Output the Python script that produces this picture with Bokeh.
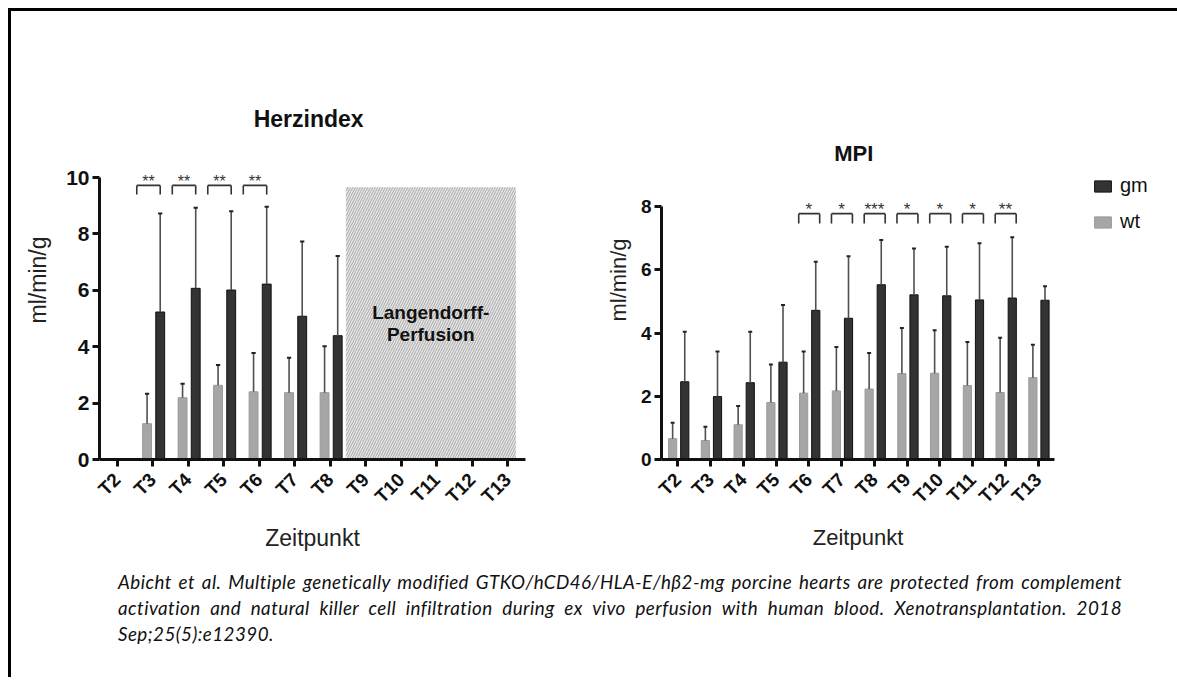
import math
from bokeh.plotting import figure
from bokeh.models import (ColumnDataSource, FactorRange, Range1d, FixedTicker,
                          Legend, LegendItem, Div)
from bokeh.transform import dodge
from bokeh.layouts import row, column
from bokeh.embed import file_html
from bokeh.resources import INLINE
from bokeh.core.properties import value

# ---------------- data ----------------
timepoints = ["T2", "T3", "T4", "T5", "T6", "T7", "T8", "T9", "T10", "T11", "T12", "T13"]

# Herzindex (ml/min/g), mean and upper SD
hi_times = ["T3", "T4", "T5", "T6", "T7", "T8"]
hi_wt = [1.27, 2.19, 2.63, 2.40, 2.37, 2.37]
hi_wt_sd = [1.06, 0.50, 0.72, 1.38, 1.24, 1.65]
hi_gm = [5.23, 6.07, 6.01, 6.22, 5.08, 4.39]
hi_gm_sd = [3.49, 2.86, 2.79, 2.74, 2.65, 2.83]
hi_sig_times = ["T3", "T4", "T5", "T6"]
hi_sig = ["**", "**", "**", "**"]
hi_hatch_from = "T9"
hi_hatch_to = "T13"
hi_hatch_top = 9.65
hi_hatch_text = ["Langendorff-", "Perfusion"]

# MPI (ml/min/g)
mpi_times = timepoints
mpi_wt = [0.66, 0.60, 1.10, 1.80, 2.10, 2.17, 2.23, 2.72, 2.73, 2.34, 2.12, 2.59]
mpi_wt_sd = [0.50, 0.44, 0.59, 1.21, 1.32, 1.39, 1.14, 1.44, 1.36, 1.38, 1.73, 1.04]
mpi_gm = [2.46, 1.99, 2.43, 3.08, 4.72, 4.47, 5.53, 5.21, 5.18, 5.05, 5.11, 5.04]
mpi_gm_sd = [1.58, 1.43, 1.61, 1.81, 1.54, 1.96, 1.42, 1.47, 1.55, 1.79, 1.92, 0.44]
mpi_sig_times = ["T6", "T7", "T8", "T9", "T10", "T11", "T12"]
mpi_sig = ["*", "*", "***", "*", "*", "*", "**"]

series_labels = ["gm", "wt"]
caption_lines = [
    "Abicht et al. Multiple genetically modified GTKO/hCD46/HLA-E/h\u03b22-mg porcine hearts are protected from complement",
    "activation and natural killer cell infiltration during ex vivo perfusion with human blood. Xenotransplantation. 2018",
    "Sep;25(5):e12390.",
]

# ---------------- styles ----------------
FONT = "Liberation Sans"
GM_FILL = "#333333"
WT_FILL = "#a6a6a6"
ERR_COL = "#505050"
WT_OFF = -0.16
GM_OFF = 0.21
BAR_W = 0.25
CAP = 0.06


def make_panel(times, wt, wt_sd, gm, gm_sd, sig_times, sig, frame_w, mb_left, mb_right,
               y_top, y_max, y_step, ytick_size, br_left, br_right, br_top, br_bottom,
               star_off, star_size, title, title_anchor, title_off, title_y, title_size,
               axlabel_size, ylabel_standoff):
    p = figure(x_range=FactorRange(factors=timepoints, range_padding=0),
               y_range=Range1d(0, y_top),
               frame_width=frame_w, frame_height=359,
               min_border_left=mb_left, min_border_right=mb_right,
               min_border_top=89, min_border_bottom=109,
               output_backend="svg", toolbar_location=None, tools="")
    p.outline_line_color = None
    p.xgrid.grid_line_color = None
    p.ygrid.grid_line_color = None
    p.background_fill_color = "white"
    p.border_fill_color = "white"

    src = ColumnDataSource(dict(
        t=times, wt=wt, gm=gm,
        wt_hi=[m + s for m, s in zip(wt, wt_sd)],
        gm_hi=[m + s for m, s in zip(gm, gm_sd)],
    ))
    r_wt = p.vbar(x=dodge("t", WT_OFF, range=p.x_range), top="wt", bottom=0, width=BAR_W,
                  source=src, fill_color=WT_FILL, line_color="#9a9a9a", line_width=1)
    r_gm = p.vbar(x=dodge("t", GM_OFF, range=p.x_range), top="gm", bottom=0, width=BAR_W,
                  source=src, fill_color=GM_FILL, line_color="#111111", line_width=1)
    for off, lo, hi in [(WT_OFF, "wt", "wt_hi"), (GM_OFF, "gm", "gm_hi")]:
        p.segment(x0=dodge("t", off, range=p.x_range), x1=dodge("t", off, range=p.x_range),
                  y0=lo, y1=hi, source=src, line_color=ERR_COL, line_width=1.6)
        p.segment(x0=dodge("t", off - CAP, range=p.x_range), x1=dodge("t", off + CAP, range=p.x_range),
                  y0=hi, y1=hi, source=src, line_color="#222222", line_width=2)

    # significance brackets
    ssrc = ColumnDataSource(dict(t=sig_times, s=sig,
                                 top=[br_top] * len(sig_times), bot=[br_bottom] * len(sig_times)))
    p.segment(x0=dodge("t", br_left, range=p.x_range), x1=dodge("t", br_right, range=p.x_range),
              y0="top", y1="top", source=ssrc, line_color="#333333", line_width=1.6)
    for off in (br_left, br_right):
        p.segment(x0=dodge("t", off, range=p.x_range), x1=dodge("t", off, range=p.x_range),
                  y0="bot", y1="top", source=ssrc, line_color="#333333", line_width=1.6)
    p.text(x=dodge("t", star_off, range=p.x_range), y="top", text="s", source=ssrc,
           text_align="center", text_baseline="alphabetic", text_color="#333333",
           text_font=value(FONT), text_font_size=f"{star_size}px", y_offset=-4)

    # title
    tsrc = ColumnDataSource(dict(t=[title_anchor], y=[title_y], s=[title]))
    p.text(x=dodge("t", title_off, range=p.x_range), y="y", text="s", source=tsrc,
           text_align="center", text_baseline="middle", text_color="#111111",
           text_font=value(FONT), text_font_style="bold", text_font_size=f"{title_size}px")

    # axes
    p.yaxis.ticker = FixedTicker(ticks=list(range(0, y_max + 1, y_step)))
    p.yaxis.bounds = (0, y_max)
    for ax in (p.xaxis[0], p.yaxis[0]):
        ax.axis_line_width = 3
        ax.axis_line_color = "#111111"
        ax.major_tick_line_width = 3
        ax.major_tick_line_color = "#111111"
        ax.major_tick_out = 7
        ax.major_tick_in = 0
        ax.minor_tick_line_color = None
        ax.major_label_text_font = FONT
        ax.major_label_text_font_style = "bold"
        ax.major_label_text_color = "#111111"
        ax.axis_label_text_font = FONT
        ax.axis_label_text_font_style = "normal"
        ax.axis_label_text_color = "#222222"
        ax.axis_label_text_font_size = f"{axlabel_size}px"
    p.yaxis.major_label_text_font_size = f"{ytick_size}px"
    p.yaxis.major_label_standoff = 3
    p.yaxis.axis_label = "ml/min/g"
    p.yaxis.axis_label_standoff = ylabel_standoff
    p.xaxis.major_label_text_font_size = "19px"
    p.xaxis.major_label_orientation = math.pi / 4
    p.xaxis.major_label_standoff = 10
    p.xaxis.axis_label = "Zeitpunkt"
    p.xaxis.axis_label_standoff = 8
    return p, r_wt, r_gm


# ---------- Herzindex ----------
p1, _, _ = make_panel(hi_times, hi_wt, hi_wt_sd, hi_gm, hi_gm_sd, hi_sig_times, hi_sig,
                      frame_w=426, mb_left=88, mb_right=55, y_top=359 / 28.2, y_max=10, y_step=2,
                      ytick_size=21, br_left=-0.45, br_right=0.21, br_top=9.72, br_bottom=9.40,
                      star_off=-0.12, star_size=16, title="Herzindex", title_anchor="T7",
                      title_off=0.39, title_y=12.09, title_size=23, axlabel_size=23,
                      ylabel_standoff=12)
hsrc = ColumnDataSource(dict(l=[hi_hatch_from], r=[hi_hatch_to]))
hatch = p1.quad(left=dodge("l", -0.56, range=p1.x_range), right=dodge("r", 0.23, range=p1.x_range),
                bottom=0, top=hi_hatch_top, source=hsrc, fill_color="#e6e6e6",
                hatch_pattern="/", hatch_color="#a8a8a8", hatch_scale=5, hatch_weight=1,
                line_color=None, level="underlay")
lsrc = ColumnDataSource(dict(t=["T11", "T11"], y=[5.21, 4.42], s=hi_hatch_text))
p1.text(x=dodge("t", -0.17, range=p1.x_range), y="y", text="s", source=lsrc,
        text_align="center", text_baseline="middle", text_color="#111111",
        text_font=value(FONT), text_font_style="bold", text_font_size="19px")

# ---------- MPI ----------
p2, r_wt2, r_gm2 = make_panel(mpi_times, mpi_wt, mpi_wt_sd, mpi_gm, mpi_gm_sd, mpi_sig_times, mpi_sig,
                              frame_w=393, mb_left=81, mb_right=123, y_top=359 / 31.6, y_max=8, y_step=2,
                              ytick_size=19, br_left=-0.31, br_right=0.33, br_top=7.78, br_bottom=7.47,
                              star_off=0.0, star_size=17, title="MPI", title_anchor="T7",
                              title_off=0.37, title_y=9.68, title_size=22, axlabel_size=22,
                              ylabel_standoff=7)
legend = Legend(items=[LegendItem(label=series_labels[0], renderers=[r_gm2]),
                       LegendItem(label=series_labels[1], renderers=[r_wt2])],
                location=(38, 226), orientation="vertical",
                glyph_width=21, glyph_height=14, label_standoff=7, label_height=22,
                spacing=13, padding=0, margin=0, border_line_color=None,
                background_fill_alpha=0, label_text_font=FONT, label_text_font_size="20px",
                label_text_color="#111111", label_text_baseline="middle")
p2.add_layout(legend, "right")

# ---------- caption ----------
html = ""
for i, line in enumerate(caption_lines):
    last = "justify" if i < len(caption_lines) - 1 else "left"
    html += (f'<div style="display:block;width:1004px;text-align:justify;'
             f'text-align-last:{last};">{line}</div>')
cap = Div(text=html, width=1004, height=108, margin=(1, 0, 0, 107),
          styles={"font-family": "Lato", "font-style": "italic", "font-size": "18.8px",
                  "letter-spacing": "0.45px", "line-height": "26px", "color": "#111111"})

root = column(row(p1, p2, spacing=0), cap, spacing=0, margin=(8, 0, 0, 8),
              styles={"border-left": "3px solid black", "border-top": "3px solid black"})

open("out.html", "w").write(file_html(root, INLINE))
